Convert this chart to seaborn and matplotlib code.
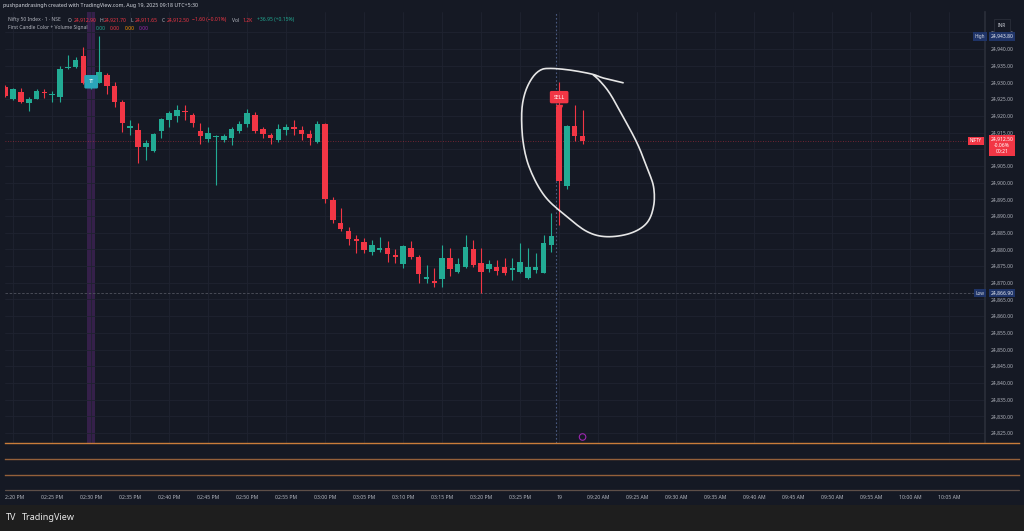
import numpy as np
import pandas as pd
import matplotlib
matplotlib.use("Agg")
import matplotlib.pyplot as plt
import matplotlib.transforms as mtransforms
from matplotlib.patches import Rectangle
from matplotlib.lines import Line2D
import seaborn as sns

# 1-minute NIFTY candles: last session (02:19 - 03:29 PM) + first four bars of Aug 19
times = ["02:19", "02:20", "02:21", "02:22", "02:23", "02:24", "02:25", "02:26", "02:27", "02:28",
         "02:29", "02:30", "02:31", "02:32", "02:33", "02:34", "02:35", "02:36", "02:37", "02:38",
         "02:39", "02:40", "02:41", "02:42", "02:43", "02:44", "02:45", "02:46", "02:47", "02:48",
         "02:49", "02:50", "02:51", "02:52", "02:53", "02:54", "02:55", "02:56", "02:57", "02:58",
         "02:59", "03:00", "03:01", "03:02", "03:03", "03:04", "03:05", "03:06", "03:07", "03:08",
         "03:09", "03:10", "03:11", "03:12", "03:13", "03:14", "03:15", "03:16", "03:17", "03:18",
         "03:19", "03:20", "03:21", "03:22", "03:23", "03:24", "03:25", "03:26", "03:27", "03:28",
         "03:29", "09:15", "09:16", "09:17", "09:18"]
opens = [24928.7, 24924.9, 24927.2, 24923.7, 24925.1, 24927.0, 24926.2, 24925.5, 24934.2, 24934.5,
         24938.0, 24929.0, 24929.9, 24932.2, 24928.9, 24924.0, 24916.4, 24915.7, 24910.6, 24909.6,
         24915.5, 24918.7, 24920.0, 24921.4, 24920.2, 24915.5, 24913.1, 24913.6, 24912.8, 24913.4,
         24915.5, 24917.5, 24920.2, 24916.0, 24914.2, 24912.8, 24915.7, 24916.6, 24915.7, 24914.6,
         24912.2, 24917.5, 24894.8, 24887.8, 24885.6, 24883.2, 24882.3, 24879.1, 24879.8, 24880.5,
         24878.3, 24875.5, 24880.3, 24877.8, 24871.1, 24870.3, 24871.0, 24877.3, 24873.3, 24874.8,
         24880.0, 24876.0, 24874.1, 24874.8, 24874.6, 24873.8, 24873.3, 24871.3, 24873.8, 24873.0,
         24881.3, 24922.7, 24899.0, 24917.0, 24914.0]
highs = [24929.2, 24928.4, 24928.2, 24925.7, 24927.9, 24928.1, 24927.5, 24934.9, 24938.2, 24937.5,
         24940.5, 24932.0, 24943.8, 24932.9, 24930.2, 24924.7, 24918.7, 24917.8, 24912.8, 24915.0,
         24919.4, 24921.5, 24923.2, 24923.2, 24920.9, 24917.9, 24916.6, 24914.3, 24914.6, 24916.7,
         24918.5, 24922.0, 24921.2, 24916.6, 24914.9, 24917.5, 24917.5, 24918.7, 24917.0, 24915.7,
         24918.5, 24917.8, 24895.6, 24892.3, 24886.8, 24884.3, 24883.3, 24882.8, 24883.6, 24882.6,
         24880.0, 24881.3, 24882.6, 24878.3, 24875.3, 24874.3, 24881.3, 24880.3, 24877.3, 24884.3,
         24882.8, 24880.3, 24876.8, 24876.8, 24877.3, 24877.3, 24882.0, 24880.3, 24878.8, 24884.3,
         24890.9, 24930.2, 24917.2, 24923.2, 24921.7]
lows = [24925.6, 24924.7, 24923.7, 24921.5, 24925.0, 24925.2, 24924.2, 24924.2, 24933.9, 24934.2,
        24929.5, 24928.0, 24929.7, 24926.5, 24922.7, 24915.2, 24914.3, 24905.8, 24906.8, 24909.3,
        24913.3, 24916.7, 24918.2, 24918.7, 24916.7, 24911.6, 24912.2, 24899.3, 24912.2, 24911.3,
        24914.8, 24916.7, 24914.9, 24913.3, 24911.6, 24912.2, 24914.3, 24914.3, 24912.8, 24911.3,
        24911.8, 24894.0, 24888.0, 24885.6, 24881.3, 24878.8, 24878.8, 24878.3, 24879.3, 24876.3,
        24875.8, 24874.3, 24877.0, 24869.9, 24869.9, 24868.8, 24868.8, 24872.0, 24872.8, 24874.3,
        24874.8, 24866.9, 24873.3, 24872.3, 24872.3, 24870.8, 24872.8, 24871.0, 24872.8, 24872.8,
        24879.3, 24887.3, 24898.0, 24912.5, 24911.65]
closes = [24925.9, 24927.9, 24924.0, 24924.9, 24927.4, 24926.7, 24926.5, 24933.9, 24934.6, 24936.7,
          24929.7, 24931.0, 24933.1, 24929.0, 24924.2, 24917.8, 24917.0, 24910.7, 24911.8, 24914.6,
          24919.0, 24920.9, 24921.7, 24921.0, 24917.9, 24914.0, 24914.9, 24914.0, 24914.0, 24916.0,
          24917.5, 24920.9, 24915.5, 24914.6, 24913.4, 24916.0, 24916.6, 24916.0, 24914.6, 24913.4,
          24917.5, 24895.0, 24888.8, 24886.0, 24883.0, 24882.6, 24879.8, 24881.3, 24880.3, 24878.5,
          24877.6, 24881.0, 24877.8, 24872.5, 24871.8, 24870.0, 24877.3, 24874.0, 24875.6, 24880.6,
          24875.3, 24873.3, 24875.6, 24873.5, 24872.8, 24874.4, 24876.3, 24874.8, 24874.8, 24882.0,
          24884.1, 24900.6, 24917.0, 24914.0, 24912.5]

price_ticks = list(range(24825, 24950, 5))
hidden_ticks = [24910]  # covered by the last-price badge
tick_times = ["02:20", "02:25", "02:30", "02:35", "02:40", "02:45", "02:50", "02:55", "03:00",
              "03:05", "03:10", "03:15", "03:20", "03:25", "09:15", "09:20", "09:25", "09:30",
              "09:35", "09:40", "09:45", "09:50", "09:55", "10:00", "10:05"]
tick_labels = ["02:20 PM", "02:25 PM", "02:30 PM", "02:35 PM", "02:40 PM", "02:45 PM", "02:50 PM",
               "02:55 PM", "03:00 PM", "03:05 PM", "03:10 PM", "03:15 PM", "03:20 PM", "03:25 PM",
               "19", "09:20 AM", "09:25 AM", "09:30 AM", "09:35 AM", "09:40 AM", "09:45 AM",
               "09:50 AM", "09:55 AM", "10:00 AM", "10:05 AM"]

last_price = 24912.5
day_high = 24943.8
day_low = 24866.9
tt_bar, sell_bar = "02:30", "09:15"

# freehand circle drawn on the screenshot, in (bar, price)
loop_bar = [79.2, 76.7, 75.2, 72.4, 69.9, 68.6, 67.5, 66.6, 66.2, 66.4, 67.3, 69.2, 72.0, 74.6,
            77.1, 80.1, 82.2, 83.1, 83.1, 82.2, 81.0, 79.2, 77.5, 76.2, 75.4]
loop_price = [24929.9, 24931.3, 24932.5, 24933.7, 24934.2, 24933.7, 24931.2, 24926.7, 24920.8,
              24911.8, 24903.8, 24895.8, 24889.8, 24885.3, 24883.8, 24884.8, 24887.8, 24892.8,
              24898.8, 24904.8, 24911.8, 24919.7, 24926.7, 24930.5, 24932.2]

BG = "#151924"
GRID = "#1f2330"
TXT = "#b2b5be"
GREEN = "#22ab94"
RED = "#f23645"

sns.set_theme(style="dark", rc={"axes.facecolor": BG, "figure.facecolor": BG,
                                "axes.edgecolor": "#2a2e39", "grid.color": GRID})
plt.rcParams["font.family"] = ["Noto Sans", "DejaVu Sans"]

W, H = 1024, 531


def rect(x0, y0, x1, y1):
    return [x0 / W, 1 - y1 / H, (x1 - x0) / W, (y1 - y0) / H]


def bar_index(t):
    if t in times:
        return times.index(t)
    hh, mm = map(int, t.split(":"))
    return times.index("09:15") + (hh * 60 + mm) - (9 * 60 + 15)


df = pd.DataFrame({"t": times, "o": opens, "h": highs, "l": lows, "c": closes})
df["i"] = np.arange(len(df))
df["up"] = df["c"] >= df["o"]
colors = np.where(df["up"], GREEN, RED)

fig = plt.figure(figsize=(W / 100, H / 100), dpi=100)
XLIM = (-0.05, 125.6)
YLIM = (24822.0, 24951.1)

ax = fig.add_axes(rect(5, 12, 985, 443))
ax.set_xlim(*XLIM)
ax.set_ylim(*YLIM)
tick_pos = [bar_index(t) for t in tick_times]
ax.set_xticks(tick_pos)
ax.set_xticklabels([])
ax.set_yticks(price_ticks)
ax.set_yticklabels(["" if v in hidden_ticks else f"{v:,.2f}" for v in price_ticks])
ax.yaxis.tick_right()
ax.tick_params(axis="y", length=0, pad=4, labelsize=3.6, labelcolor=TXT)
ax.tick_params(axis="x", length=0)
ax.grid(True, color=GRID, lw=0.6)
for s in ["top", "left", "bottom"]:
    ax.spines[s].set_visible(False)
ax.spines["right"].set_color("#2a2e39")

# highlight bar + session break + price lines
tt = bar_index(tt_bar)
ax.axvspan(tt - 0.5, tt + 0.5, color="#35204a", zorder=0.5, lw=0)
ax.axvline(bar_index(sell_bar) - 0.4, color="#4a5a80", ls=(0, (1.5, 2)), lw=0.8, zorder=1)
ax.axhline(last_price, color=RED, ls=(0, (1, 2)), lw=0.6, alpha=0.55, zorder=1)
ax.axhline(day_low, color="#50535e", ls=(0, (3, 2)), lw=0.6, zorder=1)

# candles
ax.vlines(df["i"], df["l"], df["h"], colors=colors, lw=0.8, zorder=2)
bottoms = np.minimum(df["o"], df["c"])
heights = np.maximum((df["c"] - df["o"]).abs(), 0.4)
ax.bar(df["i"], heights, bottom=bottoms, width=0.7, color=colors, lw=0, zorder=3)

# TT and SELL signal labels
ax.text(tt, 24930.2, "TT", ha="center", va="center", fontsize=3.4, color="white",
        fontweight="bold", zorder=4,
        bbox=dict(boxstyle="round,pad=0.9,rounding_size=0.3", fc="#2aa5b8", ec="none"))
sb = bar_index(sell_bar)
ax.text(sb, 24925.6, "SELL", ha="center", va="center", fontsize=3.8, color="white",
        fontweight="bold", zorder=5,
        bbox=dict(boxstyle="round,pad=0.7,rounding_size=0.3", fc=RED, ec="none"))
ax.plot([sb], [24922.4], marker="v", ms=4.5, color=RED, zorder=5)

# small event marker near the bottom
sns.scatterplot(x=[bar_index("09:18")], y=[24823.8], ax=ax, s=22, facecolor="none",
                edgecolor="#9c27b0", linewidth=0.8, zorder=4, legend=False)

# hand drawn loop (catmull-rom smoothing of the sketched stroke)
P = np.column_stack([loop_bar, loop_price])
P = np.vstack([P[0], P, P[-1]])
curve = []
for k in range(1, len(P) - 2):
    p0, p1, p2, p3 = P[k - 1], P[k], P[k + 1], P[k + 2]
    for u in np.linspace(0, 1, 8, endpoint=False):
        curve.append(0.5 * ((2 * p1) + (-p0 + p2) * u + (2 * p0 - 5 * p1 + 4 * p2 - p3) * u ** 2
                            + (-p0 + 3 * p1 - 3 * p2 + p3) * u ** 3))
curve.append(P[-2])
curve = np.array(curve)
ax.plot(curve[:, 0], curve[:, 1], color="#e6e6e6", lw=1.2, solid_capstyle="round", zorder=6)

# sub panes below the price pane
sep_colors = ["#c97d3a", "#94603a", "#94603a"]
for (y0, y1), sc in zip([(443, 459), (459, 475), (475, 490)], sep_colors):
    sub = fig.add_axes(rect(5, y0, 1019, y1))
    sub.set_facecolor(BG)
    sub.set_xticks([])
    sub.set_yticks([])
    for s in ["left", "right", "bottom"]:
        sub.spines[s].set_visible(False)
    sub.spines["top"].set_color(sc)
    sub.spines["top"].set_linewidth(1.0)
fig.add_artist(Line2D([5 / W, 1019 / W], [1 - 490 / H] * 2, color="#5e4f48", lw=0.9))

# time axis
axt = fig.add_axes(rect(5, 490, 985, 505))
axt.set_facecolor(BG)
axt.set_xlim(*XLIM)
axt.set_xticks([])
axt.set_yticks([])
for s in axt.spines.values():
    s.set_visible(False)
for p, lab in zip(tick_pos, tick_labels):
    axt.text(p, 0.5, lab, transform=axt.get_xaxis_transform(), ha="center", va="center",
             fontsize=3.7, color=TXT, clip_on=True)

# bottom branding bar
fig.add_artist(Rectangle((0, 0), 1, 1 - 505 / H, transform=fig.transFigure, fc="#1e1e1e",
                         ec="none", zorder=0))
fig.text(6 / W, 1 - 517 / H, "TV", fontsize=6.5, fontweight="heavy", color="#e8e8e8",
         va="center")
fig.text(22 / W, 1 - 517 / H, "TradingView", fontsize=6.5, fontweight="bold",
         color="#e8e8e8", va="center")


# header
def ftxt(x, y, s, c, size=3.6, **kw):
    fig.text(x / W, 1 - y / H, s, color=c, fontsize=size, va="center", **kw)


ftxt(3, 6, "pushpandrasingh created with TradingView.com, Aug 19, 2025 09:18 UTC+5:30",
     "#d1d4dc", 3.8)
ftxt(8, 20, "Nifty 50 Index · 1 · NSE", TXT)
for x, s, c in [(68, "O", TXT), (73.5, "24,912.90", RED), (99, "H", TXT), (104, "24,921.70", RED),
                (130.5, "L", TXT), (134.5, "24,911.65", RED), (162, "C", TXT), (167, "24,912.50", RED),
                (192, "−1.60 (−0.01%)", RED), (232, "Vol", TXT), (243, "1.2K", RED),
                (257, "+36.95 (+0.15%)", GREEN)]:
    ftxt(x, 20, s, c)
ftxt(8, 28, "First Candle Color + Volume Signal", TXT)
for x, c in [(96, GREEN), (110, RED), (125, "#ff9800"), (139, "#9c27b0")]:
    ftxt(x, 28, "0.00", c)

# right scale badges
bt = mtransforms.blended_transform_factory(fig.transFigure, ax.transData)
BLUE = "#1f3468"
fig.text(1002 / W, 24947.0, "INR", transform=bt, fontsize=3.4, color="#d1d4dc", ha="center",
         va="center", bbox=dict(boxstyle="square,pad=0.9", fc=BG, ec="#2a2e39", lw=0.6))
for price, tag in [(day_high, "High"), (day_low, "Low")]:
    fig.text(980 / W, price, tag, transform=bt, fontsize=3.4, color="#d1d4dc", ha="center",
             va="center", bbox=dict(boxstyle="square,pad=0.35", fc=BLUE, ec="none"))
    fig.text(1002 / W, price, f"{price:,.2f}", transform=bt, fontsize=3.6, color="#e8ebf2",
             ha="center", va="center", bbox=dict(boxstyle="square,pad=0.35", fc=BLUE, ec="none"))
fig.text(976 / W, last_price, "NIFTY", transform=bt, fontsize=3.2, color="white", ha="center",
         va="center", bbox=dict(boxstyle="square,pad=0.35", fc=RED, ec="none"))
fig.text(1002 / W, last_price + 1.2, f"{last_price:,.2f}\n-0.06%\n00:21", transform=bt,
         fontsize=3.6, color="white", ha="center", va="top", linespacing=1.25,
         bbox=dict(boxstyle="square,pad=0.4", fc=RED, ec="none"))

fig.savefig("out.png", dpi=100, facecolor=fig.get_facecolor())
